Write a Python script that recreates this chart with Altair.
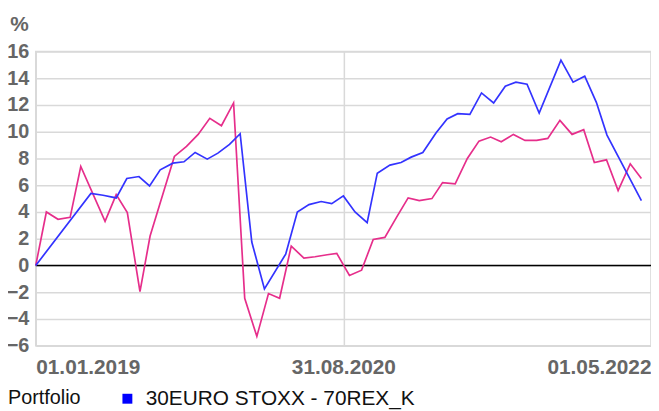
import altair as alt
import pandas as pd

# ---- data ----
series_name = "30EURO STOXX - 70REX_K"

pink_dates = [
    "2019-01-01", "2019-01-22", "2019-02-14", "2019-03-10", "2019-03-31", "2019-05-18",
    "2019-06-09", "2019-07-01", "2019-07-26", "2019-08-15", "2019-10-02", "2019-10-26",
    "2019-11-18", "2019-12-11", "2020-01-03", "2020-01-27", "2020-02-18", "2020-03-13",
    "2020-04-05", "2020-04-27", "2020-05-20", "2020-06-14", "2020-07-06", "2020-07-30",
    "2020-08-18", "2020-09-12", "2020-10-06", "2020-10-29", "2020-11-21", "2020-12-14",
    "2021-01-06", "2021-01-28", "2021-02-22", "2021-03-15", "2021-04-09", "2021-05-03",
    "2021-05-26", "2021-06-18", "2021-07-09", "2021-08-02", "2021-08-25", "2021-09-17",
    "2021-10-09", "2021-11-02", "2021-11-26", "2021-12-19", "2022-01-09", "2022-02-02",
    "2022-02-25", "2022-03-21", "2022-04-12",
]
pink_values = [
    0.0, 4.0, 3.45, 3.6, 7.4, 3.3,
    5.3, 3.95, -1.95, 2.2, 8.15, 8.9,
    9.8, 11.0, 10.45, 12.15, -2.45, -5.3,
    -2.1, -2.45, 1.45, 0.55, 0.65, 0.8,
    0.9, -0.75, -0.35, 1.95, 2.1, 3.6,
    5.05, 4.85, 5.0, 6.2, 6.1, 8.0,
    9.3, 9.6, 9.25, 9.8, 9.35, 9.35,
    9.5, 10.85, 9.8, 10.15, 7.7, 7.9,
    5.6, 7.6, 6.5,
]

blue_dates = [
    "2019-01-01", "2019-04-20", "2019-05-14", "2019-06-09", "2019-06-30", "2019-07-24",
    "2019-08-14", "2019-09-04", "2019-09-29", "2019-10-21", "2019-11-12", "2019-12-06",
    "2019-12-27", "2020-01-19", "2020-02-09", "2020-03-03", "2020-03-28", "2020-05-09",
    "2020-06-01", "2020-06-24", "2020-07-18", "2020-08-08", "2020-08-31", "2020-09-23",
    "2020-10-17", "2020-11-06", "2020-12-01", "2020-12-23", "2021-01-12", "2021-02-04",
    "2021-03-02", "2021-03-24", "2021-04-14", "2021-05-08", "2021-05-31", "2021-06-24",
    "2021-07-17", "2021-08-07", "2021-08-29", "2021-09-22", "2021-11-04", "2021-11-28",
    "2021-12-21", "2022-01-13", "2022-02-03", "2022-04-12",
]
blue_values = [
    0.0, 5.38, 5.25, 5.05, 6.5, 6.65,
    5.95, 7.15, 7.65, 7.75, 8.45, 7.95,
    8.4, 9.05, 9.85, 1.75, -1.75, 0.85,
    4.0, 4.55, 4.78, 4.62, 5.2, 4.0,
    3.2, 6.9, 7.5, 7.7, 8.1, 8.45,
    9.9, 10.95, 11.35, 11.3, 12.9, 12.15,
    13.4, 13.7, 13.55, 11.4, 15.35, 13.7,
    14.15, 12.2, 9.75, 4.85,
]

y_ticks = [-6, -4, -2, 0, 2, 4, 6, 8, 10, 12, 14, 16]
x_tick_dates = ["2019-01-01", "2020-08-31", "2022-05-01"]
zero_level = [0]


def dt(s):
    y, m, d = (int(p) for p in s.split("-"))
    return alt.DateTime(year=y, month=m, date=d, utc=True)


pink_df = pd.DataFrame({"date": pink_dates, "value": pink_values})
blue_df = pd.DataFrame({"date": blue_dates, "value": blue_values,
                        "series": [series_name] * len(blue_dates)})
zero_df = pd.DataFrame({"value": zero_level})

FONT = "Liberation Sans"
GRID = "#d9d9d9"
LABEL = "#666666"

x_enc = alt.X(
    "date:T",
    scale=alt.Scale(type="utc", domain=[dt(x_tick_dates[0]), dt(x_tick_dates[-1])]),
    axis=alt.Axis(
        values=[dt(d) for d in x_tick_dates],
        labelExpr="utcFormat(datum.value, '%d.%m.%Y')",
        labelFlush=True, labelOverlap=False,
        grid=True, gridColor=GRID, gridWidth=1.5,
        ticks=False, domain=False,
        labelFont=FONT, labelFontSize=21, labelFontWeight="bold", labelColor=LABEL,
        labelPadding=11, title=None,
    ),
)
y_enc = alt.Y(
    "value:Q",
    scale=alt.Scale(domain=[-6, 16], nice=False, zero=False),
    axis=alt.Axis(
        values=y_ticks, grid=True, gridColor=GRID, gridWidth=1.5,
        ticks=False, domain=False, labelOverlap=False,
        labelFont=FONT, labelFontSize=20, labelFontWeight="bold", labelColor=LABEL,
        labelPadding=7,
        title="%", titleAngle=0, titleX=-17, titleY=-21, titleAlign="center",
        titleBaseline="alphabetic", titleFont=FONT, titleFontSize=21,
        titleFontWeight="bold", titleColor=LABEL,
    ),
)

zero_rule = alt.Chart(zero_df).mark_rule(color="#000000", strokeWidth=1.5).encode(
    y=y_enc
)

pink_line = alt.Chart(pink_df).mark_line(color="#e62e8b", strokeWidth=1.7).encode(
    x=x_enc, y=y_enc
)

blue_line = alt.Chart(blue_df).mark_line(strokeWidth=1.7).encode(
    x=x_enc, y=y_enc,
    color=alt.Color(
        "series:N",
        scale=alt.Scale(domain=[series_name], range=["#3333ff"]),
        legend=alt.Legend(
            orient="none", legendX=-28, legendY=340,
            title="Portfolio", titleOrient="left", titlePadding=36,
            titleFont=FONT, titleFontSize=20, titleFontWeight="normal", titleColor="#111111",
            labelFont=FONT, labelFontSize=21, labelColor="#111111", labelOffset=8,
            labelLimit=500,
            symbolType="square", symbolSize=100, symbolFillColor="#0000ff",
            symbolStrokeWidth=0, symbolOpacity=1,
        ),
    ),
)

chart = (
    alt.layer(zero_rule, pink_line, blue_line)
    .properties(
        width=621, height=297,
        padding={"left": 28, "top": 42, "right": 0, "bottom": 63},
        autosize="none",
    )
    .configure_view(stroke=GRID, strokeWidth=1.5)
)

chart.save("out.html", embed_options={"renderer": "svg", "actions": False})
